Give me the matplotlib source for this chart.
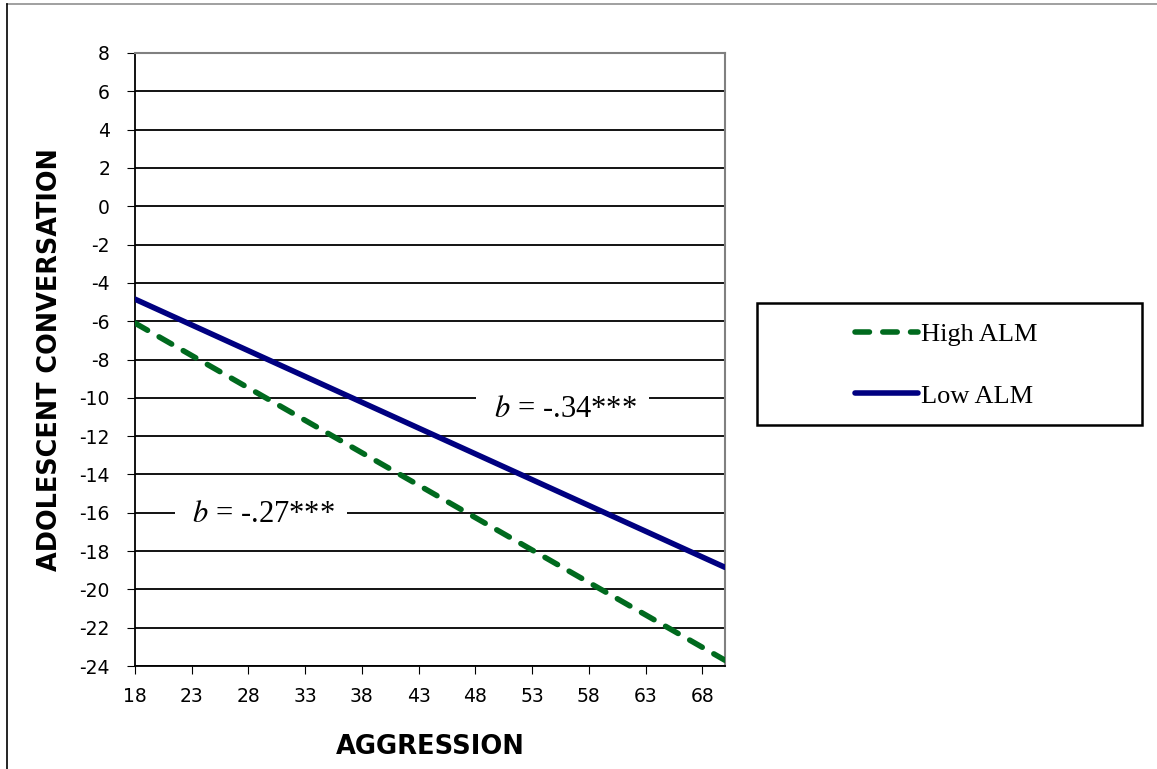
import matplotlib
matplotlib.use("Agg")
import matplotlib.pyplot as plt
from matplotlib.lines import Line2D
from matplotlib.patches import Rectangle

plt.rcParams["mathtext.fontset"] = "stix"
plt.rcParams["axes.unicode_minus"] = False

# data
aggression = [18, 70]
high_alm = [-6.1, -23.7]
low_alm = [-4.85, -18.85]
x_ticks = [18, 23, 28, 33, 38, 43, 48, 53, 58, 63, 68]
y_ticks = list(range(-24, 9, 2))

W, H = 1157, 769
fig = plt.figure(figsize=(W / 100, H / 100), dpi=100)
ax = fig.add_axes([135 / W, 1 - 666 / H, (725 - 135) / W, (666 - 53) / H])

ax.plot(aggression, high_alm, color="#006a1e", lw=4, ls=(0, (2.6, 2.4)),
        dash_capstyle="round", solid_capstyle="round", label="High ALM", zorder=3)
ax.plot(aggression, low_alm, color="#000080", lw=4, solid_capstyle="round",
        label="Low ALM", zorder=3)

ax.set_xlim(18, 70)
ax.set_ylim(-24, 8)
ax.set_xticks(x_ticks)
ax.set_yticks(y_ticks)
ax.tick_params(labelsize=13.5, length=6, direction="out", color="black")
ax.tick_params(axis="y", pad=12)
ax.tick_params(axis="x", pad=9)
ax.set_axisbelow(True)
ax.yaxis.grid(True, color="black", lw=1.3)
ax.xaxis.grid(False)
for s in ["top", "right"]:
    ax.spines[s].set_color("#808080")
    ax.spines[s].set_linewidth(1.5)
for s in ["left", "bottom"]:
    ax.spines[s].set_linewidth(1.3)

ax.set_xlabel("AGGRESSION", fontsize=18.5, fontweight="bold", labelpad=20)
ax.set_ylabel("ADOLESCENT CONVERSATION", fontsize=18.4, fontweight="bold", labelpad=12)

box = dict(boxstyle="square,pad=0.35", facecolor="white", edgecolor="none")
ax.text(55.7, -10.6, "\u00a0$b$ = -.34***\u00a0", fontsize=22, family="Liberation Serif",
        ha="center", va="center", bbox=box, zorder=2)
ax.text(29.1, -16.1, "\u00a0$b$ = -.27***\u00a0", fontsize=22, family="Liberation Serif",
        ha="center", va="center", bbox=box, zorder=2)

# legend box drawn as its own rectangle, legend entries inside it
fig.add_artist(Rectangle((757 / W, 1 - 425 / H), 385 / W, 122 / H, transform=fig.transFigure,
                         facecolor="white", edgecolor="black", lw=1.8))
leg = fig.legend(loc="center left", bbox_to_anchor=(831 / W, 1 - 365 / H),
                 frameon=False, handlelength=2.4, handletextpad=0.1, labelspacing=1.45,
                 prop={"family": "Liberation Serif", "size": 19})

# outer chart border (top grey, left black)
fig.add_artist(Line2D([7 / W, 1], [1 - 4 / H, 1 - 4 / H], color="#909090", lw=1.2))
fig.add_artist(Line2D([7 / W, 7 / W], [0, 1 - 4 / H], color="black", lw=1.2))

fig.savefig("out.png", dpi=100)
